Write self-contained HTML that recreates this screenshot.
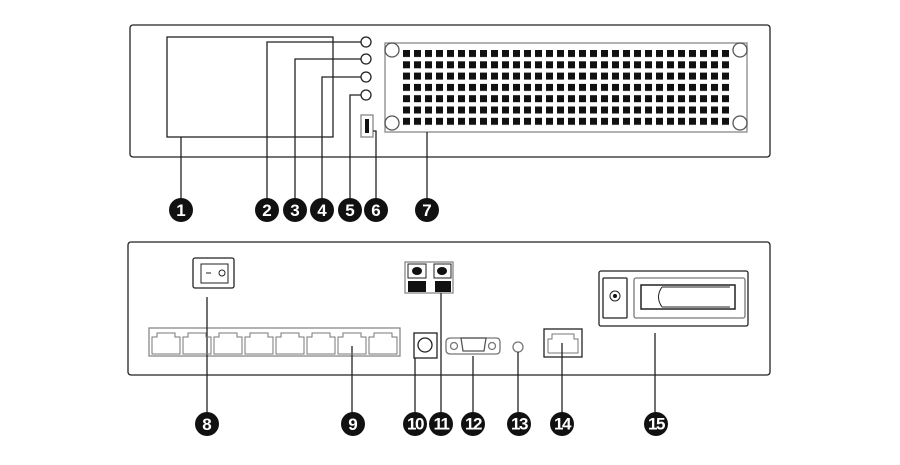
<!DOCTYPE html>
<html><head><style>
html,body{margin:0;padding:0;background:#fff;}
svg{display:block;}
text{font-family:"Liberation Sans",sans-serif;font-weight:bold;fill:#fff;font-size:17px;text-anchor:middle;}
</style></head><body>
<svg width="900" height="465" viewBox="0 0 900 465" xmlns="http://www.w3.org/2000/svg">
<g fill="none" stroke="#222" stroke-width="1.3">
<rect x="130" y="25" width="640" height="132" rx="3"/>
<rect x="167" y="37" width="166" height="100"/>
<circle cx="366" cy="42" r="5"/><circle cx="366" cy="59" r="5"/><circle cx="366" cy="77" r="5"/><circle cx="366" cy="95" r="5"/>
<rect x="361" y="115" width="12" height="22" stroke="#888"/>
<rect x="385" y="43" width="362" height="89" stroke="#888"/>
<circle cx="392" cy="50" r="7" stroke="#555"/><circle cx="740" cy="50" r="7" stroke="#555"/>
<circle cx="392" cy="123" r="7" stroke="#555"/><circle cx="740" cy="123" r="7" stroke="#555"/>
<polyline points="361,42 267,42 267,199"/>
<polyline points="361,59 295,59 295,199"/>
<polyline points="361,77 322,77 322,199"/>
<polyline points="361,95 350,95 350,199"/>
<polyline points="373,131 376,131 376,199"/>
<line x1="181" y1="137" x2="181" y2="199"/>
<line x1="427" y1="132" x2="427" y2="199"/>
<rect x="128" y="242" width="642" height="133" rx="3"/>
<rect x="193" y="258" width="41" height="30" rx="2"/>
<rect x="201" y="264" width="27" height="19" stroke-width="1"/>
<line x1="206" y1="273" x2="211" y2="273" stroke-width="1"/>
<circle cx="222" cy="273" r="3" stroke-width="1"/>
<rect x="149" y="328" width="251" height="28" stroke="#888"/>
<rect x="414" y="333" width="23" height="25"/>
<circle cx="425" cy="345" r="7"/>
<rect x="405" y="262" width="48" height="31" stroke="#888"/>
<rect x="408" y="264" width="18" height="14" stroke-width="1"/>
<rect x="434" y="264" width="17" height="14" stroke-width="1"/>
<path d="M451 338 H496 Q500 338 500 342 V350 Q500 354 496 354 H451 Q446 354 446 350 V342 Q446 338 451 338Z" stroke="#777"/>
<path d="M461 338 H486 L484 351 H463Z" stroke="#555"/>
<circle cx="454" cy="346" r="3.5" stroke="#777"/><circle cx="492" cy="346" r="3.5" stroke="#777"/>
<circle cx="518" cy="347" r="5" stroke="#777"/>
<rect x="544" y="329" width="38" height="28"/>
<polyline points="548,353 548,339 552,339 552,334 574,334 574,339 578,339 578,353 548,353" stroke-width="1" stroke="#777"/>
<rect x="599" y="271" width="149" height="55" rx="2"/>
<rect x="603" y="278" width="24" height="40" rx="1"/>
<circle cx="615" cy="296" r="5" stroke-width="1"/>
<rect x="634" y="278" width="111" height="40" rx="2" stroke="#777"/>
<rect x="641" y="285" width="94" height="24" stroke-width="1.5"/>
<path d="M662 287 Q655 297 662 307 M662 287 H730 M662 307 H730" stroke-width="1"/>
<line x1="207" y1="297" x2="207" y2="413"/>
<line x1="352" y1="346" x2="352" y2="413"/>
<line x1="415" y1="358" x2="415" y2="413"/>
<line x1="441" y1="293" x2="441" y2="413"/>
<line x1="473" y1="356" x2="473" y2="413"/>
<line x1="518" y1="352" x2="518" y2="413"/>
<line x1="562" y1="343" x2="562" y2="413"/>
<line x1="655" y1="333" x2="655" y2="413"/>
</g>
<g fill="#111">
<rect x="408" y="281" width="18" height="11"/><rect x="435" y="281" width="16" height="11"/>
<ellipse cx="417" cy="271" rx="5" ry="4"/><ellipse cx="442" cy="271" rx="5" ry="4"/>
<rect x="365" y="119" width="4" height="14"/>
<circle cx="615" cy="296" r="2"/>
</g>
<g fill="none" stroke="#777" stroke-width="1">
<path d="M152 354 V337 H157 V333 H175 V337 H180 V354Z"/>
<path d="M183 354 V337 H188 V333 H206 V337 H211 V354Z"/>
<path d="M214 354 V337 H219 V333 H237 V337 H242 V354Z"/>
<path d="M245 354 V337 H250 V333 H268 V337 H273 V354Z"/>
<path d="M276 354 V337 H281 V333 H299 V337 H304 V354Z"/>
<path d="M307 354 V337 H312 V333 H330 V337 H335 V354Z"/>
<path d="M338 354 V337 H343 V333 H361 V337 H366 V354Z"/>
<path d="M369 354 V337 H374 V333 H392 V337 H397 V354Z"/>
</g>
<g fill="#111">
<circle cx="181" cy="210" r="12"/><circle cx="267" cy="210" r="12"/><circle cx="295" cy="210" r="12"/><circle cx="322" cy="210" r="12"/><circle cx="350" cy="210" r="12"/><circle cx="376" cy="210" r="12"/><circle cx="427" cy="210" r="12"/>
<circle cx="207" cy="424" r="12"/><circle cx="353" cy="424" r="12"/><circle cx="415" cy="424" r="12"/><circle cx="441" cy="424" r="12"/><circle cx="473" cy="424" r="12"/><circle cx="519" cy="424" r="12"/><circle cx="562" cy="424" r="12"/><circle cx="656" cy="424" r="12"/>
</g>
<text x="181" y="216">1</text><text x="267" y="216">2</text><text x="295" y="216">3</text><text x="322" y="216">4</text><text x="350" y="216">5</text><text x="376" y="216">6</text><text x="427" y="216">7</text>
<text x="207" y="430">8</text><text x="353" y="430">9</text>
<g style="font-size:15px;letter-spacing:-1.5px">
<text x="415" y="429.5">10</text><text x="441" y="429.5">11</text><text x="473" y="429.5">12</text><text x="519" y="429.5">13</text><text x="562" y="429.5">14</text><text x="656" y="429.5">15</text>
</g>
<defs>
<pattern id="p" x="403" y="50" width="11" height="11.3" patternUnits="userSpaceOnUse"><rect width="7" height="7" fill="#111"/></pattern>
</defs>
<rect x="403" y="50" width="326" height="76" fill="url(#p)"/>
</svg>
</body></html>
